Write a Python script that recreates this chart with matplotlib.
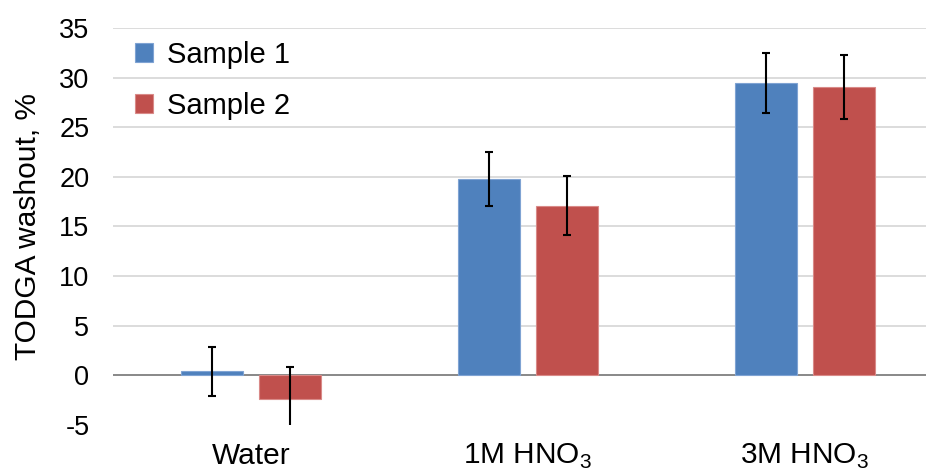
import matplotlib.pyplot as plt
import numpy as np

plt.rcParams['font.family'] = ['Liberation Sans', 'DejaVu Sans']
plt.rcParams['mathtext.fontset'] = 'custom'
plt.rcParams['mathtext.rm'] = 'Liberation Sans'
plt.rcParams['axes.unicode_minus'] = False

categories = ['Water', r'1M HNO$_\mathregular{3}$', r'3M HNO$_\mathregular{3}$']
sample1 = [0.4, 19.8, 29.45]
sample2 = [-2.35, 17.1, 29.05]
err1 = [2.5, 2.7, 3.0]
err2 = [3.2, 3.0, 3.2]

blue = '#4F81BD'
red = '#C0504D'

fig = plt.figure(figsize=(9.26, 4.73), dpi=100)
ax = fig.add_axes([113 / 926, 1 - 425 / 473, 830 / 926, 397 / 473])

x = np.arange(len(categories))
w = 0.224
off = 0.141
ekw = dict(ecolor='black', elinewidth=1.5, capsize=3, capthick=1.5)
ax.bar(x - off, sample1, w, color=blue, edgecolor='#7FA3D3', linewidth=0.8,
       yerr=err1, error_kw=ekw, label='Sample 1', zorder=2)
ax.bar(x + off, sample2, w, color=red, edgecolor='#D98A88', linewidth=0.8,
       yerr=err2, error_kw=ekw, label='Sample 2', zorder=2)

ax.set_xlim(-0.5, 2.5)
ax.set_ylim(-5, 35)
ax.set_yticks(range(-5, 36, 5))
ax.set_xticks(x)
ax.set_xticklabels(categories)

for s in ax.spines.values():
    s.set_visible(False)
for t in range(0, 36, 5):
    ax.axhline(t, color='#D9D9D9' if t else '#7F7F7F', lw=1.3, zorder=1)

ax.tick_params(axis='y', length=0, pad=17, labelsize=19.5)
ax.tick_params(axis='x', length=0, pad=12, labelsize=21.5)
ax.set_ylabel('TODGA washout, %', fontsize=21.5, labelpad=12)

leg = ax.legend(loc='upper left', bbox_to_anchor=(22 / 830, (425 - 41) / 397),
                fontsize=21, frameon=False, handlelength=0.62, handleheight=0.62,
                handletextpad=0.48, labelspacing=0.78, borderaxespad=0, borderpad=0)

plt.savefig('out.png', dpi=100)
